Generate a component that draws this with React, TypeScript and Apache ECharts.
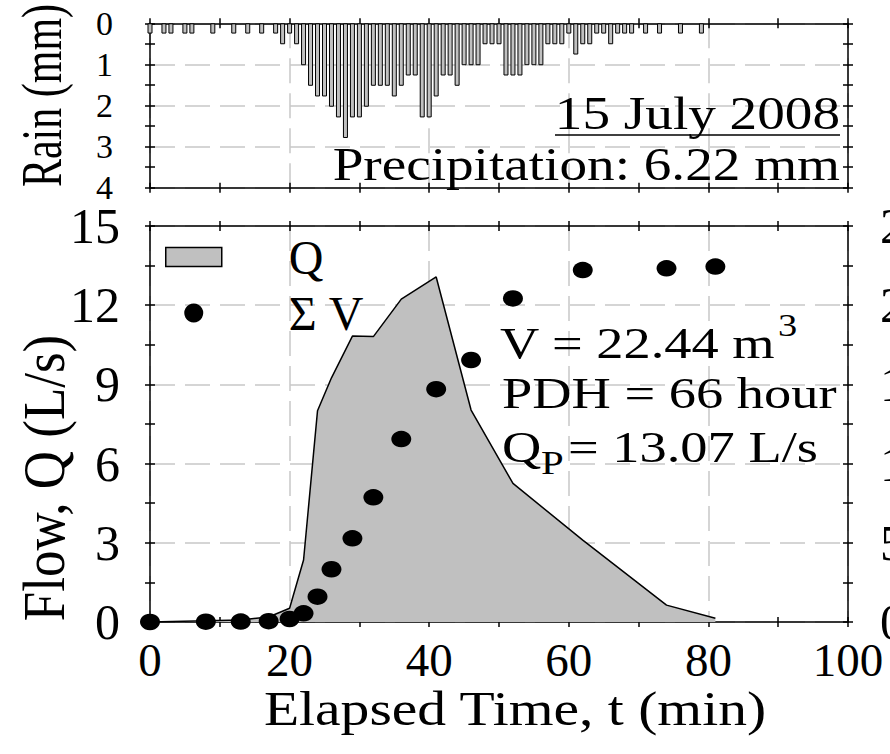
import React, { useEffect, useRef } from "react";
import * as echarts from "echarts";

// Rainfall (minute of event, depth in mm)
const rainMinutes = [
  0, 2, 3, 5, 6, 9, 12, 14, 16, 18,
  19, 20, 21, 22, 23, 24, 25, 26, 27, 28,
  29, 30, 31, 32, 33, 34, 35, 36, 37, 38,
  39, 40, 41, 42, 43, 44, 45, 46, 47, 48,
  49, 50, 51, 52, 53, 54, 55, 56, 57, 58,
  59, 60, 61, 62, 63, 64, 65, 66, 67, 68,
  69, 71, 73, 76, 79,
];
const rainDepth = [
  0.25, 0.25, 0.25, 0.25, 0.25, 0.25, 0.25, 0.25, 0.25, 0.25,
  0.51, 0.25, 0.51, 1.02, 1.52, 1.78, 1.78, 2.03, 2.29, 2.79,
  2.29, 2.29, 2.03, 1.52, 1.52, 1.52, 1.78, 1.52, 1.27, 1.27,
  2.29, 2.29, 1.78, 1.27, 1.27, 1.52, 1.02, 1.02, 1.02, 0.51,
  0.51, 0.51, 1.27, 1.27, 1.27, 1.02, 1.02, 1.02, 0.51, 0.51,
  0.51, 0.25, 0.76, 0.51, 0.51, 0.25, 0.25, 0.51, 0.25, 0.25,
  0.25, 0.25, 0.25, 0.25, 0.25,
];

// Flow and cumulative volume
const timeMin = [0, 8, 13, 17, 20, 22, 24, 26, 29, 32, 36, 41, 46, 52, 62, 74, 81];
const flowQ = [0, 0.05, 0.08, 0.19, 0.52, 2.35, 8.0, 9.25, 10.83, 10.81, 12.23, 13.07, 8.03, 5.25, 3.1, 0.64, 0.14];
const cumVolume = [0, 0.02, 0.03, 0.05, 0.19, 0.55, 1.6, 3.33, 5.28, 7.87, 11.55, 14.7, 16.54, 20.43, 22.22, 22.33, 22.44];

const legendNames = ["Q", "Σ V"];
const dateText = "15 July 2008";
const precipText = "Precipitation: 6.22 mm";
const volumeText = "V = 22.44 m";
const pdhText = "PDH = 66 hour";
const peakText = "= 13.07 L/s";

const FONT = "Liberation Serif";
const BLACK = { color: "#000", width: 1.5 };
const GRIDLINE = { color: "#c8c8c8", width: 1.5, type: [25, 10] as any };

function axisPair(common: any, position: string, label: any, split: boolean) {
  return [
    {
      ...common,
      position,
      axisLine: { show: true, onZero: false, lineStyle: BLACK },
      axisTick: { show: true, inside: false, length: 5, lineStyle: BLACK },
      minorTick: { show: true, splitNumber: 2, length: 5, lineStyle: BLACK },
      axisLabel: label || { show: false },
      splitLine: split ? { show: true, lineStyle: GRIDLINE } : { show: false },
    },
    {
      ...common,
      position,
      axisLine: { show: false, onZero: false },
      axisTick: { show: true, inside: true, length: 5, lineStyle: BLACK },
      minorTick: { show: true, splitNumber: 2, length: 5, lineStyle: BLACK },
      axisLabel: { show: false },
      splitLine: { show: false },
    },
  ];
}

export default function App() {
  const ref = useRef<HTMLDivElement>(null);

  useEffect(() => {
    if (!ref.current) return;
    const chart = echarts.init(ref.current, undefined, { renderer: "svg" });

    const xTop = { type: "value", gridIndex: 0, min: 0, max: 100, interval: 20 };
    const xBot = { type: "value", gridIndex: 1, min: 0, max: 100, interval: 20 };
    const yRain = { type: "value", gridIndex: 0, min: 0, max: 4, interval: 1, inverse: true };
    const yFlow = { type: "value", gridIndex: 1, min: 0, max: 15, interval: 3 };
    const yVol = { type: "value", gridIndex: 1, min: 0, max: 25, interval: 5 };

    const xLabel = { show: true, fontFamily: FONT, fontSize: 47, color: "#000", margin: 14 };
    const yRainLabel = {
      show: true, fontFamily: FONT, fontSize: 34, color: "#000", margin: 37,
      lineHeight: 26, padding: [6, 0, 0, 0],
    };
    const yFlowLabel = {
      show: true, fontFamily: FONT, fontSize: 50, color: "#000", margin: 30,
      lineHeight: 34, padding: [8, 0, 0, 0],
    };
    const yVolLabel = {
      show: true, fontFamily: FONT, fontSize: 50, color: "#000", margin: 32,
      lineHeight: 34, padding: [8, 0, 0, 0],
    };

    const xAxis = [
      ...axisPair(xTop, "bottom", null, true), // 0,1
      ...axisPair(xTop, "top", null, false), // 2,3
      ...axisPair(xBot, "bottom", xLabel, true), // 4,5
      ...axisPair(xBot, "top", null, false), // 6,7
    ];
    const yAxis = [
      ...axisPair(yRain, "left", yRainLabel, true), // 0,1
      ...axisPair(yRain, "right", null, false), // 2,3
      ...axisPair(yFlow, "left", yFlowLabel, true), // 4,5
      ...axisPair(yVol, "right", yVolLabel, false), // 6,7
    ];

    const annot = (text: string, x: number, y: number, size: number, align: string, sx = 1.2) => ({
      type: "text",
      x,
      y,
      scaleX: sx,
      z: 100,
      style: {
        text,
        fontFamily: FONT,
        fontSize: size,
        fill: "#000",
        align,
        verticalAlign: "middle",
      },
    });

    const option: any = {
      animation: false,
      backgroundColor: "#fff",
      textStyle: { fontFamily: FONT },
      grid: [
        { left: 150, top: 23.3, width: 698, height: 164.4, containLabel: false, outerBoundsMode: "none" },
        { left: 150, top: 226, width: 698, height: 396, containLabel: false, outerBoundsMode: "none" },
      ],
      xAxis,
      yAxis,
      legend: {
        left: 165,
        top: 233,
        padding: 0,
        orient: "vertical",
        itemWidth: 56,
        itemHeight: 19,
        itemGap: 8,
        selectedMode: false,
        textStyle: { fontFamily: FONT, fontSize: 48, color: "#000", padding: [0, 0, 0, 62] },
        data: [
          { name: legendNames[0], icon: "rect", itemStyle: { color: "#c0c0c0", borderColor: "#000", borderWidth: 1.5 } },
          { name: legendNames[1], icon: "circle", itemStyle: { color: "#000", borderWidth: 0, opacity: 1 } },
        ],
      },
      series: [
        {
          type: "bar",
          name: "Rain",
          xAxisIndex: 0,
          yAxisIndex: 0,
          barWidth: 5,
          data: rainMinutes.map((m, i) => [m, rainDepth[i]]),
          itemStyle: { color: "#c0c0c0", borderColor: "#000", borderWidth: 1 },
        },
        {
          type: "line",
          name: legendNames[0],
          xAxisIndex: 4,
          yAxisIndex: 4,
          data: timeMin.map((t, i) => [t, flowQ[i]]),
          symbol: "none",
          showSymbol: false,
          color: "#000",
          lineStyle: { color: "#000", width: 1.5 },
          areaStyle: { color: "#c0c0c0", opacity: 1 },
          z: 2,
        },
        {
          type: "scatter",
          name: legendNames[1],
          xAxisIndex: 4,
          yAxisIndex: 6,
          data: timeMin.map((t, i) => [t, cumVolume[i]]),
          symbol: "circle",
          symbolSize: [20, 16.5],
          itemStyle: { color: "#000", opacity: 1 },
          z: 3,
        },
      ],
      graphic: [
        {
          type: "text",
          x: 42,
          y: 95.5,
          rotation: Math.PI / 2,
          scaleY: 1.35,
          style: { text: "Rain (mm)", fontFamily: FONT, fontSize: 42, fill: "#000", align: "center", verticalAlign: "middle" },
        },
        {
          type: "text",
          x: 44,
          y: 478,
          rotation: Math.PI / 2,
          scaleY: 1.1,
          style: { text: "Flow, Q (L/s)", fontFamily: FONT, fontSize: 53, fill: "#000", align: "center", verticalAlign: "middle" },
        },
        annot("Elapsed Time, t (min)", 515, 709, 48, "center", 1.2),
        annot(dateText, 840, 114, 46, "right"),
        {
          type: "line",
          z: 100,
          shape: { x1: 555, y1: 135, x2: 840, y2: 135 },
          style: { stroke: "#000", lineWidth: 1.5 },
        },
        annot(precipText, 840, 165, 46, "right"),
        annot(volumeText, 500, 342.5, 45, "left", 1.21),
        annot("3", 778, 326, 32, "left"),
        annot(pdhText, 502, 392.5, 45, "left", 1.21),
        annot("Q", 502, 447, 45, "left", 1.21),
        annot("P", 541, 463, 34, "left"),
        annot(peakText, 568, 447, 45, "left", 1.21),
      ],
    };

    chart.setOption(option);
    return () => chart.dispose();
  }, []);

  return (
    <div
      ref={ref}
      style={{ position: "absolute", left: 0, top: 0, width: 890, height: 754, overflow: "hidden" }}
    />
  );
}
